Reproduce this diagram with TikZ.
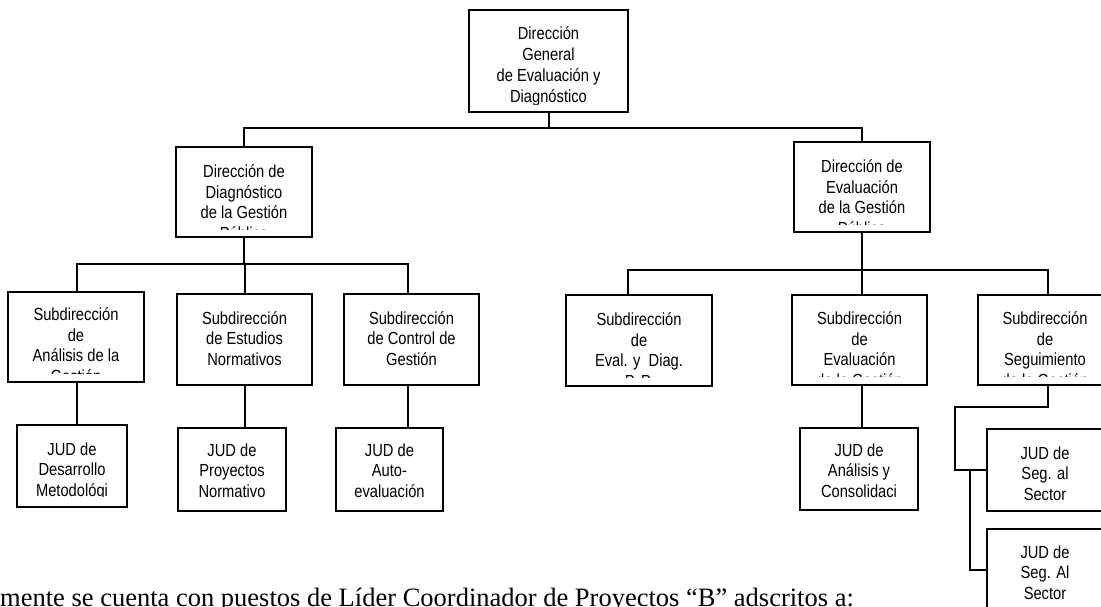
\documentclass[tikz,border=0pt]{standalone}
\usepackage{fontspec}
\setmainfont{Liberation Sans}[FakeStretch=0.84]
\newfontfamily\noteserif{Liberation Serif}
\usetikzlibrary{calc}

% One organisational unit: a framed box and its centred label, clipped at the
% bottom the way a fixed-size text frame cuts off overflowing lines.
% #1 name, #2-#5 frame corners (x1,y1,x2,y2), #6 first baseline, #7 clip line,
% #8 label, #9 line spacing
\newcommand\orgunit[9]{%
  \node[orgbox, minimum width={(#4-#2)*1pt}, minimum height={(#5-#3)*1pt}]
    (#1) at ({(#2+#4)/2},{(#3+#5)/2}) {};
  \begin{scope}
    \clip (#2,#3) rectangle (#4,#7);
    \node[boxtext] (#1-t) at ({(#2+#4)/2},#6)
      {\fontsize{17.5}{#9}\selectfont\begin{tabular}[t]{@{}c@{}}#8\end{tabular}};
  \end{scope}}

\begin{document}
\begin{tikzpicture}[x=1pt,y=-1pt,
  orgbox/.style={draw=black, line width=2.2pt, rectangle, inner sep=0pt},
  boxtext/.style={inner sep=0pt, anchor=base},
  conn/.style={draw=black, line width=2pt}]
\useasboundingbox (0,0) rectangle (1101,607);

% boxes
\orgunit{top}{469}{10}{628}{112}{40}{104.5}{Dirección\\General\\de Evaluación y\\Diagnóstico}{21}
\orgunit{d1}{176}{147}{312}{237}{178}{229}{Dirección de\\Diagnóstico\\de la Gestión\\Pública}{20.5}
\orgunit{d2}{794}{142}{930}{232}{173}{224}{Dirección de\\Evaluación\\de la Gestión\\Pública}{20.5}
\orgunit{s1}{8}{292}{144}{382}{320.5}{373}{Subdirección\\de\\Análisis de la\\Gestión}{20.5}
\orgunit{s2}{177}{294}{312}{385}{324}{377}{Subdirección\\de Estudios\\Normativos}{20.5}
\orgunit{s3}{344}{294}{479}{385}{324}{377}{Subdirección\\de Control de\\Gestión}{20.5}
\orgunit{s4}{566}{295}{712}{386}{325.5}{377}{Subdirección\\de\\Eval. y\ \ Diag.\\P. P.}{20.5}
\orgunit{s5}{792}{295}{927}{385}{324.5}{376}{Subdirección\\de\\Evaluación\\de la Gestión}{20.5}
\orgunit{s6}{978}{295}{1112}{385}{324.5}{376}{Subdirección\\de\\Seguimiento\\de la Gestión}{20.5}
\orgunit{j1}{17}{425}{127}{507}{455}{496}{JUD de\\Desarrollo\\Metodológi}{20.5}
\orgunit{j2}{178}{428}{286}{511}{456}{505}{JUD de\\Proyectos\\Normativo}{20.5}
\orgunit{j3}{336}{428}{443}{511}{456}{505}{JUD de\\Auto-\\evaluación}{20.5}
\orgunit{j4}{800}{428}{918}{510}{456}{502}{JUD de\\Análisis y\\Consolidaci}{20.5}
\orgunit{j5}{987}{429}{1103}{511}{459}{503}{JUD de\\Seg. al\\Sector}{20.5}
\orgunit{j6}{987}{529}{1103}{640}{558}{630}{JUD de\\Seg. Al\\Sector}{20.5}

% bus levels
\coordinate (bus0) at (0,128);
\coordinate (busL) at (0,264);
\coordinate (busR) at (0,270);

% general direction to the two directions
\draw[conn] (top.south) -- (top.south |- bus0);
\draw[conn] (d1.north) -- (d1.north |- bus0) -| (d2.north);

% left direction
\draw[conn] (d1.south) -- (d1.south |- busL);
\draw[conn] ([xshift=1pt]s1.north) -- ([xshift=1pt]s1.north |- busL)
            -| ([xshift=-3.5pt]s3.north);
\draw[conn] (s2.north) -- (s2.north |- busL);

% right direction
\draw[conn] (d2.south) -- (d2.south |- busR);
\draw[conn] ([xshift=-11pt]s4.north) -- ([xshift=-11pt]s4.north |- busR)
            -| ([xshift=3pt]s6.north);
\draw[conn] ([xshift=2.5pt]s5.north) -- ([xshift=2.5pt]s5.north |- busR);

% subdirections to their JUD
\draw[conn] ([xshift=1pt]s1.south) -- ([xshift=1pt]s1.south |- j1.north);
\draw[conn] (s2.south) -- (s2.south |- j2.north);
\draw[conn] ([xshift=-3.5pt]s3.south) -- ([xshift=-3.5pt]s3.south |- j3.north);
\draw[conn] ([xshift=2.5pt]s5.south) -- ([xshift=2.5pt]s5.south |- j4.north);

% follow-up subdirection branches to its two JUD
\coordinate (k1) at (955,407);
\coordinate (k2) at (970,570);
\draw[conn] ([xshift=3pt]s6.south) |- (k1) |- (j5.west);
\draw[conn] (k2 |- j5.west) -- (k2) -- (k2 -| j6.west);

% running text below the chart
\node[anchor=base west, inner sep=0pt, font=\noteserif\fontsize{26.5}{30}\selectfont]
  (note) at (0,606) {mente se cuenta con puestos de Líder Coordinador de Proyectos “B” adscritos a:};
\end{tikzpicture}
\end{document}
